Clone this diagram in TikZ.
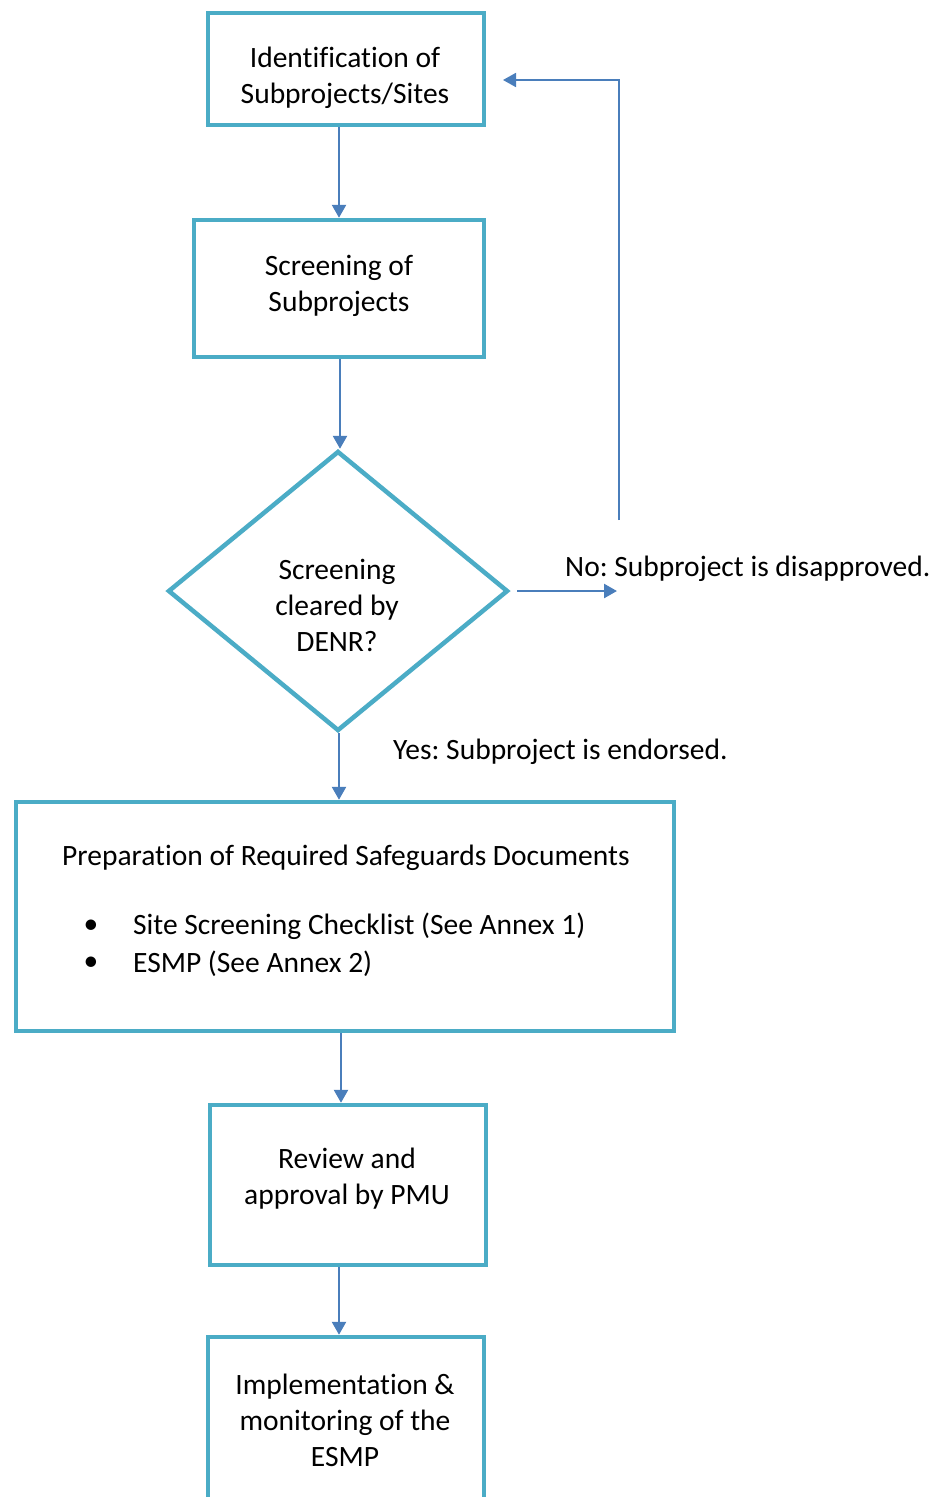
\documentclass[tikz,border=0pt]{standalone}
\usepackage{fontspec}
\setmainfont{Carlito}[Ligatures={NoCommon}]
\usetikzlibrary{arrows.meta,shapes.geometric}
\definecolor{boxc}{HTML}{4BACC6}
\definecolor{arrc}{HTML}{4A7EBB}
\frenchspacing
\begin{document}
\begin{tikzpicture}[x=1pt,y=-1pt,
  every node/.style={font=\fontsize{29.5}{36}\selectfont},
  box/.style={draw=boxc,line width=4.5pt,rectangle,inner sep=0pt},
  dec/.style={draw=boxc,line width=4.5pt,diamond,inner sep=0pt},
  lbl/.style={align=center,inner sep=0pt},
  arr/.style={draw=arrc,line width=2.5pt,-{Triangle[length=13pt,width=14pt]}},
  thinarr/.style={draw=arrc,line width=1.8pt,-{Triangle[length=13pt,width=14pt]}}]
\clip (0,0) rectangle (934,1497);
\fill[white] (0,0) rectangle (934,1497);
% boxes
\node[box,minimum width=276pt,minimum height=112pt] (b1) at (346,69) {};
\node[box,minimum width=290pt,minimum height=137pt] (b2) at (339,288.5) {};
\node[dec,minimum width=340pt,minimum height=280pt] (d) at (338,591) {};
\node[box,minimum width=658pt,minimum height=229pt] (b3) at (345,916.5) {};
\node[box,minimum width=276pt,minimum height=160pt] (b4) at (348,1185) {};
\node[box,minimum width=276pt,minimum height=200pt] (b5) at (346,1437) {};
% texts
\node[lbl] (t1) at (345,77.5) {Identification of\\Subprojects/Sites};
\node[lbl] (t2) at (339,286) {Screening of\\Subprojects};
\node[lbl] (td) at (337,605) {Screening\\cleared by\\DENR?};
\node[lbl,anchor=west] (t3) at (62,857.5) {Preparation of Required Safeguards Documents};
\node[lbl] (bu1) at (91,926.5) {\textbullet};
\node[lbl] (bu2) at (91,963.5) {\textbullet};
\node[lbl,anchor=west] (t3a) at (133,926.5) {Site Screening Checklist (See Annex 1)};
\node[lbl,anchor=west] (t3b) at (133,963.5) {ESMP (See Annex 2)};
\node[lbl] (t4) at (347,1179) {Review and\\approval by PMU};
\node[lbl] (t5) at (345,1420) {Implementation \&\\monitoring of the\\ESMP};
\node[lbl,anchor=west] (no) at (565,568.5) {No: Subproject is disapproved.};
\node[lbl,anchor=west] (yes) at (393,751.5) {Yes: Subproject is endorsed.};
% connectors
\draw[arr] (339,0 |- b1.south) -- (339,0 |- b2.north);
\draw[arr] (340,0 |- b2.south) -- (340,0 |- d.north);
\draw[arr] (339,0 |- d.south) -- (339,0 |- b3.north);
\draw[arr] (341,0 |- b3.south) -- (341,0 |- b4.north);
\draw[arr] (339,0 |- b4.south) -- (339,0 |- b5.north);
\coordinate (noend) at (617,591);
\draw[arr,shorten <=7pt] (d.east) -- (noend);
\coordinate (fbstart) at (619,520);
\coordinate (fbend) at (503,80);
\draw[thinarr] (fbstart) |- (fbend);
\end{tikzpicture}
\end{document}
